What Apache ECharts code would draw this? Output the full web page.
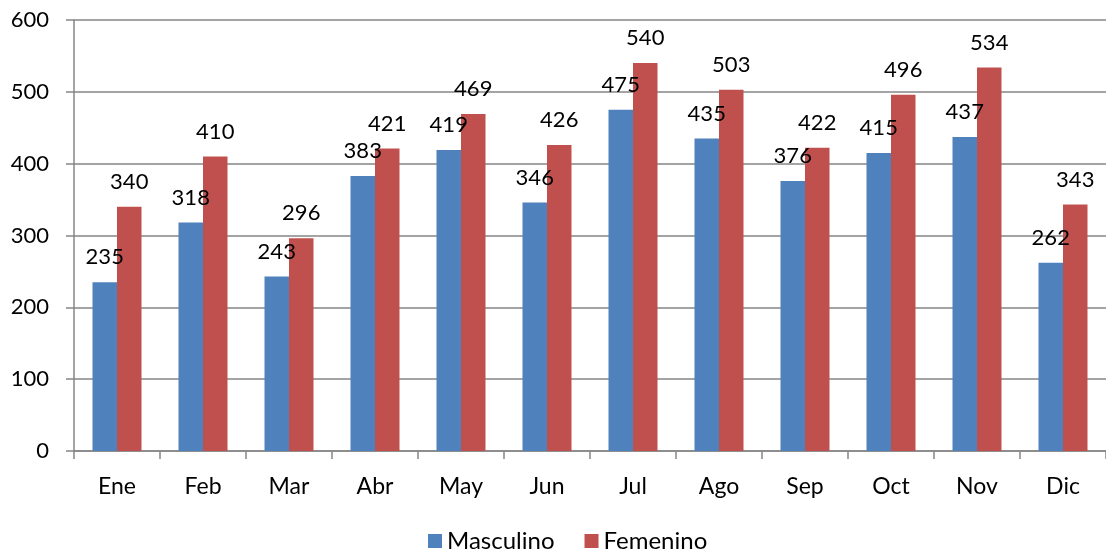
<!DOCTYPE html>
<html>
<head>
<meta charset="utf-8">
<script src="https://cdn.jsdelivr.net/npm/echarts@6/dist/echarts.min.js"></script>
<style>
  html, body { margin: 0; padding: 0; background: #fff; }
  #main { width: 1106px; height: 555px; }
</style>
</head>
<body>
<div id="main"></div>
<script>
const months = ["Ene", "Feb", "Mar", "Abr", "May", "Jun", "Jul", "Ago", "Sep", "Oct", "Nov", "Dic"];
const masculino = [235, 318, 243, 383, 419, 346, 475, 435, 376, 415, 437, 262];
const femenino = [340, 410, 296, 421, 469, 426, 540, 503, 422, 496, 534, 343];

const font = "Lato, 'Open Sans', sans-serif";
const chart = echarts.init(document.getElementById("main"));

const labelStyle = {
    show: true,
    position: "top",
    distance: 14,
    color: "#000",
    fontSize: 22,
    fontFamily: font
};

option = {
    animation: false,
    textStyle: { fontFamily: font },
    grid: { left: 74, top: 20, right: -6, bottom: 104 },
    legend: {
        bottom: -3,
        left: 423,
        itemWidth: 14,
        itemHeight: 14,
        itemGap: 30,
        icon: "rect",
        textStyle: { fontSize: 24, color: "#000", fontFamily: font }
    },
    xAxis: {
        type: "category",
        data: months,
        axisLine: { lineStyle: { color: "#868686", width: 1.5 } },
        axisTick: { show: true, length: 8, lineStyle: { color: "#868686", width: 1.5 } },
        axisLabel: { color: "#000", fontSize: 23, margin: 24, fontFamily: font }
    },
    yAxis: {
        type: "value",
        min: 0,
        max: 600,
        interval: 100,
        axisLine: { show: true, lineStyle: { color: "#868686", width: 1.5 } },
        axisTick: { show: true, length: 8, lineStyle: { color: "#868686", width: 1.5 } },
        axisLabel: { color: "#000", fontSize: 22, margin: 25, fontFamily: font },
        splitLine: { lineStyle: { color: "#868686", width: 1.5 } }
    },
    series: [
        {
            name: "Masculino",
            type: "bar",
            data: masculino,
            barWidth: 24.5,
            barGap: "0%",
            itemStyle: { color: "#4F81BD" },
            label: labelStyle
        },
        {
            name: "Femenino",
            type: "bar",
            data: femenino,
            barWidth: 24.5,
            barGap: "0%",
            itemStyle: { color: "#C0504D" },
            label: labelStyle
        }
    ]
};

chart.setOption(option);
</script>
</body>
</html>
